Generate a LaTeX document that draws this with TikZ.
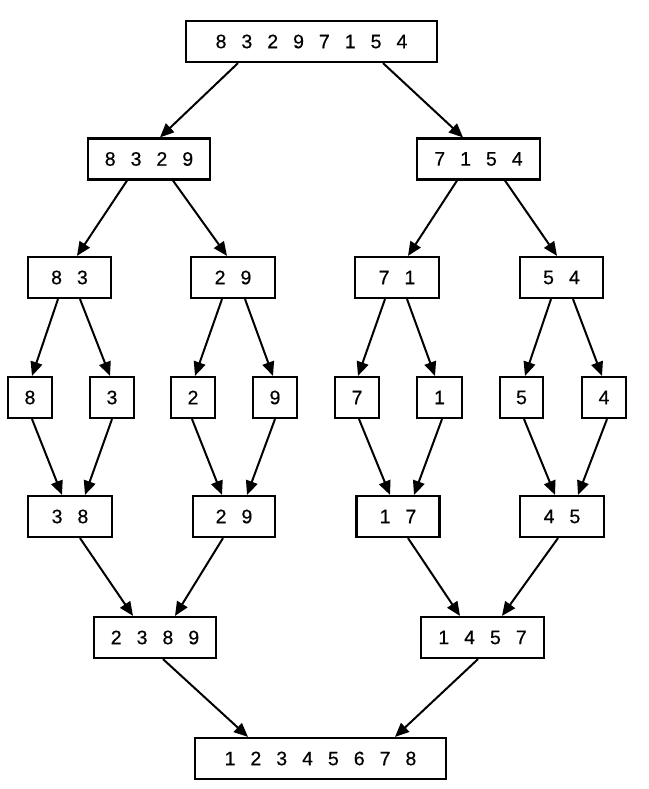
\documentclass[tikz,border=0pt]{standalone}
\usepackage{fontspec}
\setmainfont{Liberation Sans}[FakeBold=0.5]
\usetikzlibrary{arrows.meta}
\newcommand{\D}{\hspace{15pt}}
\tikzset{
  box/.style={draw, line width=2.2pt, inner sep=0pt, minimum height=41pt,
    font=\fontsize{19.5}{19.5}\selectfont, anchor=center},
  arr/.style={line width=2pt, -{Triangle[length=14pt,width=12pt]}}
}
\begin{document}
\begin{tikzpicture}[x=1pt,y=-1pt]
\useasboundingbox (0,0) rectangle (648,789);
% level 1
\node[box, minimum width=251pt] (top) at (311.5,41.5) {8\D3\D2\D9\D7\D1\D5\D4};
% level 2
\node[box, minimum width=122pt] (a) at (149,159) {8\D3\D2\D9};
\node[box, minimum width=123pt] (b) at (478.5,159) {7\D1\D5\D4};
% level 3
\node[box, minimum width=83pt] (c83) at (69.5,277.5) {8\D3};
\node[box, minimum width=84pt] (c29) at (233,277.5) {2\D9};
\node[box, minimum width=84pt] (c71) at (397,277.5) {7\D1};
\node[box, minimum width=83pt] (c54) at (561.5,277.5) {5\D4};
% level 4
\node[box, minimum width=44pt] (d8) at (30,397.5) {8};
\node[box, minimum width=44pt] (d3) at (112,397.5) {3};
\node[box, minimum width=44pt] (d2) at (193,397.5) {2};
\node[box, minimum width=44pt] (d9) at (275,397.5) {9};
\node[box, minimum width=44pt] (d7) at (357,397.5) {7};
\node[box, minimum width=45pt] (d1) at (439.5,397.5) {1};
\node[box, minimum width=43pt] (d5) at (521.5,397.5) {5};
\node[box, minimum width=44pt] (d4) at (604,397.5) {4};
% level 5
\node[box, minimum width=84pt] (e38) at (70,516.5) {3\D8};
\node[box, minimum width=82pt] (e29) at (234,516.5) {2\D9};
\node[box, minimum width=83pt] (e17) at (398,516.5) {1\D7};
\node[box, minimum width=84pt] (e45) at (562,516.5) {4\D5};
% level 6
\node[box, minimum width=122pt] (f1) at (155,637.5) {2\D3\D8\D9};
\node[box, minimum width=123pt] (f2) at (482.5,637.5) {1\D4\D5\D7};
% level 7
\node[box, minimum width=251pt] (g) at (320.5,758.5) {1\D2\D3\D4\D5\D6\D7\D8};
% arrows
\draw[arr] ([xshift=-73.5pt]top.south) -- ([xshift=11pt]a.north);
\draw[arr] ([xshift=71.5pt]top.south) -- ([xshift=-15.5pt]b.north);
\draw[arr] ([xshift=-22pt]a.south) -- ([xshift=7.5pt]c83.north);
\draw[arr] ([xshift=24pt]a.south) -- ([xshift=-6pt]c29.north);
\draw[arr] ([xshift=-21.5pt]b.south) -- ([xshift=11pt]c71.north);
\draw[arr] ([xshift=26.5pt]b.south) -- ([xshift=-4.5pt]c54.north);
\draw[arr] ([xshift=-11.5pt]c83.south) -- ([xshift=2pt]d8.north);
\draw[arr] ([xshift=10.5pt]c83.south) -- ([xshift=-2pt]d3.north);
\draw[arr] ([xshift=-11pt]c29.south) -- ([xshift=2pt]d2.north);
\draw[arr] ([xshift=12pt]c29.south) -- ([xshift=-2pt]d9.north);
\draw[arr] ([xshift=-12pt]c71.south) -- ([xshift=1pt]d7.north);
\draw[arr] ([xshift=10pt]c71.south) -- ([xshift=-4.5pt]d1.north);
\draw[arr] ([xshift=-10.5pt]c54.south) -- ([xshift=3.5pt]d5.north);
\draw[arr] ([xshift=11.5pt]c54.south) -- ([xshift=-2pt]d4.north);
\draw[arr] ([xshift=2pt]d8.south) -- ([xshift=-8pt]e38.north);
\draw[arr] (d3.south) -- ([xshift=15pt]e38.north);
\draw[arr] ([xshift=-1pt]d2.south) -- ([xshift=-12pt]e29.north);
\draw[arr] (d9.south) -- ([xshift=13pt]e29.north);
\draw[arr] ([xshift=2pt]d7.south) -- ([xshift=-8pt]e17.north);
\draw[arr] ([xshift=2.5pt]d1.south) -- ([xshift=16pt]e17.north);
\draw[arr] ([xshift=2.5pt]d5.south) -- ([xshift=-7pt]e45.north);
\draw[arr] ([xshift=3pt]d4.south) -- ([xshift=16pt]e45.north);
\draw[arr] ([xshift=10pt]e38.south) -- ([xshift=-22pt]f1.north);
\draw[arr] ([xshift=-11pt]e29.south) -- ([xshift=20pt]f1.north);
\draw[arr] ([xshift=10pt]e17.south) -- ([xshift=-22.5pt]f2.north);
\draw[arr] ([xshift=-4pt]e45.south) -- ([xshift=19.5pt]f2.north);
\draw[arr] ([xshift=8pt]f1.south) -- ([xshift=-72.5pt]g.north);
\draw[arr] ([xshift=-4.5pt]f2.south) -- ([xshift=74.5pt]g.north);
\end{tikzpicture}
\end{document}
